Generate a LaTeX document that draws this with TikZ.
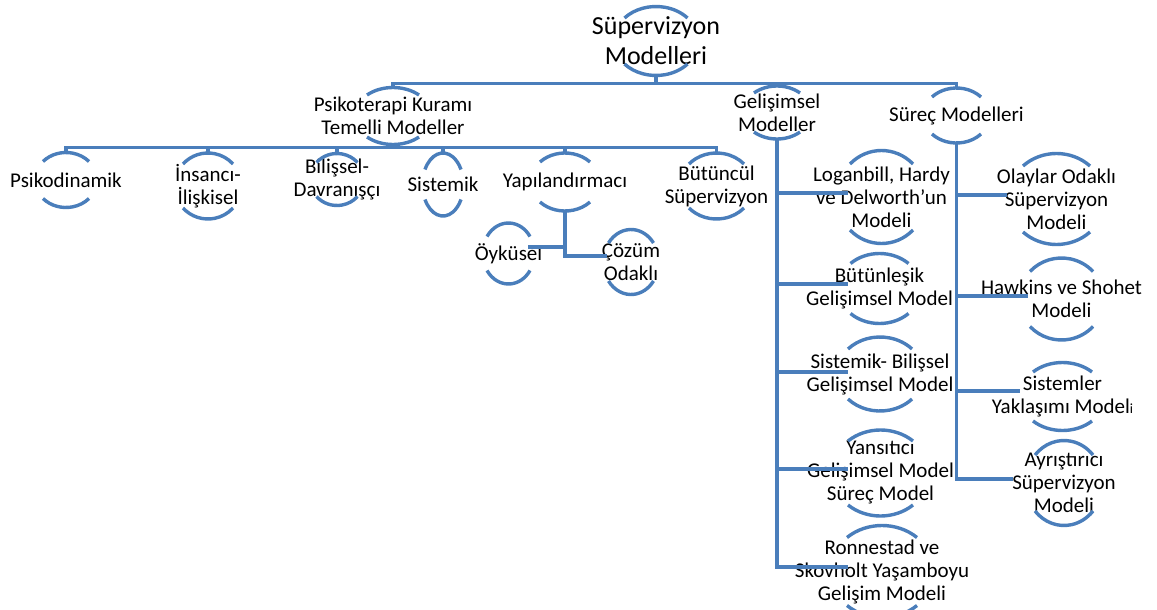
\documentclass[tikz,border=0pt]{standalone}
\usepackage{fontspec}
\setmainfont{Carlito}
\definecolor{smartblue}{HTML}{4A7EBB}
\tikzset{
  boxtext/.style={align=center, inner sep=0pt, font=\fontsize{21}{23}\selectfont},
  halfarc/.style={draw=smartblue, line width=3.4pt},
  link/.style={draw=smartblue, line width=3.4pt}
}
% text node with a half circle above and below it
\newcommand{\halfnode}[8][]{%
  \pgfmathsetmacro\hnang{asin(#6/#7)}%
  \pgfmathsetmacro\hnrad{#5/cos(\hnang)}%
  \node[boxtext,#1] (#2) at (#3,#4) {#8};
  \coordinate (#2-t) at (#3,{#4-#7});
  \coordinate (#2-b) at (#3,{#4+#7});
  \draw[halfarc] ({#3-#5},{#4-#6}) arc[start angle=180+\hnang, end angle=360-\hnang, x radius=\hnrad, y radius=#7];
  \draw[halfarc] ({#3-#5},{#4+#6}) arc[start angle=180-\hnang, end angle=\hnang, x radius=\hnrad, y radius=#7];
}
\begin{document}
\begin{tikzpicture}[x=1pt,y=-1pt]
  \useasboundingbox (0,0) rectangle (1157,610);
  \clip (0,0) rectangle (1157,610);

  \halfnode[font=\fontsize{26}{30}\selectfont]{root}{656}{41}{31.5}{23}{34.5}{Süpervizyon\\Modelleri}
  \halfnode{psy}{393}{116}{26}{21}{28.5}{Psikoterapi Kuramı\\Temelli Modeller}
  \halfnode{gel}{777}{112.5}{23}{19.5}{26.5}{Gelişimsel\\Modeller}
  \halfnode{sur}{956.5}{115.5}{24.5}{18.5}{27.5}{Süreç Modelleri}

  \halfnode{pdin}{66}{180}{23}{18.5}{27.5}{Psikodinamik}
  \halfnode{ins}{208}{186}{25}{22}{33}{İnsancı-\\İlişkisel}
  \halfnode{bil}{337}{179.5}{20.5}{17}{26}{Bilişsel-\\Davranışçı}
  \halfnode{sis}{443}{184.5}{18}{15}{31.5}{Sistemik}
  \halfnode{yap}{565}{182}{25}{20}{29}{Yapılandırmacı}
  \halfnode{but}{716.5}{186}{27.5}{22}{33}{Bütüncül\\Süpervizyon}

  \halfnode{oyk}{508.5}{253.5}{21.5}{17}{30.5}{Öyküsel}
  \halfnode{coz}{631}{262}{22.5}{19}{32.5}{Çözüm\\Odaklı}

  \halfnode{log}{881.5}{197}{31.5}{33}{46.5}{Loganbill, Hardy\\ve Delworth’un\\Modeli}
  \halfnode{btl}{879.5}{288.5}{29}{25}{35}{Bütünleşik\\Gelişimsel Model}
  \halfnode{sbg}{880}{374}{32}{25}{37}{Sistemik- Bilişsel\\Gelişimsel Model}
  \halfnode{yan}{880.5}{473}{32.5}{32}{43}{Yansıtıcı\\Gelişimsel Model\\Süreç Model}
  \halfnode{ron}{882}{571.5}{35}{34}{46}{Ronnestad ve\\Skovholt Yaşamboyu\\Gelişim Modeli}

  \halfnode{ola}{1056.5}{199}{33.5}{33}{45.5}{Olaylar Odaklı\\Süpervizyon\\Modeli}
  \halfnode{haw}{1061.5}{299}{31.5}{27.5}{41}{Hawkins ve Shohet\\Modeli}
  \halfnode{syk}{1062.5}{396.5}{29.5}{24.5}{34}{Sistemler\\Yaklaşımı Model{\fontsize{14}{14}\selectfont i}}
  \halfnode{ayr}{1064}{483}{29}{28}{42.5}{Ayrıştırıcı\\Süpervizyon\\Modeli}

  % stub ends of the vertical lists
  \coordinate (oyk-in) at (528,247);
  \coordinate (coz-in) at (607,256);
  \coordinate (log-in) at (848,193);
  \coordinate (btl-in) at (848,284);
  \coordinate (sbg-in) at (848,372);
  \coordinate (yan-in) at (848,469);
  \coordinate (ron-in) at (848,567);
  \coordinate (ola-in) at (1007,195);
  \coordinate (haw-in) at (1028,296);
  \coordinate (syk-in) at (1020,391);
  \coordinate (ayr-in) at (1013,479);

  \begin{scope}[link]
    \draw (root-b) -- ++(0,8) -| (psy-t);
    \draw (root-b) -- ++(0,8) -| (gel-t);
    \draw (root-b) -- ++(0,8) -| (sur-t);
    \draw (psy-b) -- ++(0,3) -| (pdin-t);
    \draw (psy-b) -- ++(0,3) -| (ins-t);
    \draw (psy-b) -- ++(0,3) -| (bil-t);
    \draw (psy-b) -- ++(0,3) -| (sis-t);
    \draw (psy-b) -- ++(0,3) -| (yap-t);
    \draw (psy-b) -- ++(0,3) -| (but-t);
    \draw (yap-b) |- (oyk-in);
    \draw (yap-b) |- (coz-in);
    \draw (gel-b) |- (log-in);
    \draw (gel-b) |- (btl-in);
    \draw (gel-b) |- (sbg-in);
    \draw (gel-b) |- (yan-in);
    \draw (gel-b) |- (ron-in);
    \draw (sur-b) |- (ola-in);
    \draw (sur-b) |- (haw-in);
    \draw (sur-b) |- (syk-in);
    \draw (sur-b) |- (ayr-in);
  \end{scope}
\end{tikzpicture}
\end{document}
